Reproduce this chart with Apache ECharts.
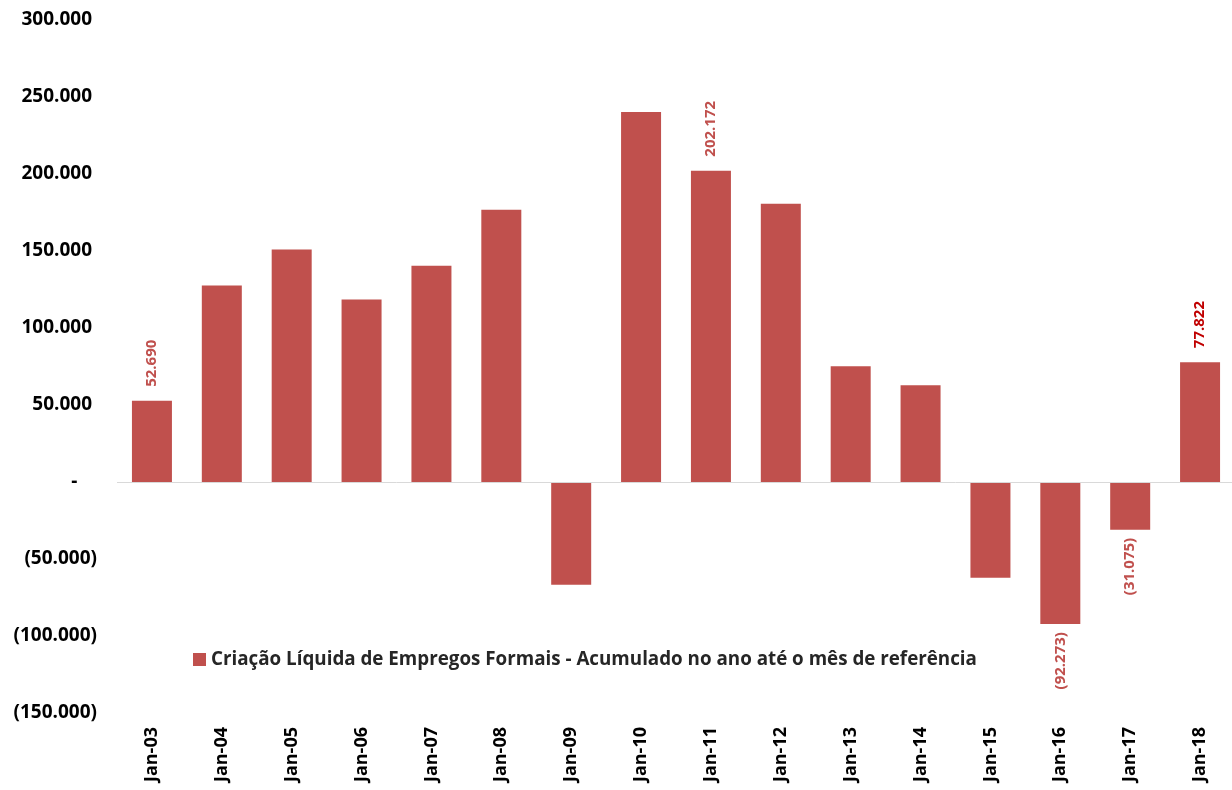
<!DOCTYPE html>
<html>
<head>
<meta charset="utf-8">
<script src="https://cdn.jsdelivr.net/npm/echarts@6/dist/echarts.min.js"></script>
<style>
  html, body { margin: 0; padding: 0; background: #fff; overflow: hidden; }
  #chart { width: 1235px; height: 790px; }
</style>
</head>
<body>
<div id="chart"></div>
<script>
const categories = ['Jan-03', 'Jan-04', 'Jan-05', 'Jan-06', 'Jan-07', 'Jan-08', 'Jan-09', 'Jan-10',
    'Jan-11', 'Jan-12', 'Jan-13', 'Jan-14', 'Jan-15', 'Jan-16', 'Jan-17', 'Jan-18'];
const values = [52690, 127600, 150900, 118500, 140500, 176800, -66700, 240300,
    202172, 180700, 75100, 62800, -62200, -92273, -31075, 77822];
// quais barras levam rótulo de valor
const labeled = ['Jan-03', 'Jan-11', 'Jan-16', 'Jan-17', 'Jan-18'];
const highlight = 'Jan-18';
const seriesName = 'Criação Líquida de Empregos Formais - Acumulado no ano até o mês de referência';

const fontFamily = '"Open Sans", "Noto Sans", sans-serif';

// formato pt-BR: 1.234 e negativos entre parênteses
function fmt(v) {
    const s = Math.abs(v).toString().replace(/\B(?=(\d{3})+(?!\d))/g, '.');
    return v < 0 ? '(' + s + ')' : s;
}

const data = values.map((v, i) => {
    const cat = categories[i];
    if (labeled.indexOf(cat) < 0) return v;
    const neg = v < 0;
    return {
        value: v,
        label: {
            show: true,
            rotate: 90,
            position: neg ? 'bottom' : 'top',
            align: neg ? 'right' : 'left',
            verticalAlign: 'middle',
            distance: neg ? 8 : 14,
            fontFamily: fontFamily,
            fontWeight: 'bold',
            fontSize: 15,
            color: cat === highlight ? '#c00000' : '#c0504d',
            formatter: (p) => fmt(p.value)
        }
    };
});

const myChart = echarts.init(document.getElementById('chart'));
const option = {
    backgroundColor: '#ffffff',
    animation: false,
    grid: {
        left: 117,
        right: 0,
        top: 20,
        bottom: 77,
        containLabel: false
    },
    legend: {
        left: 188,
        top: 645,
        icon: 'rect',
        itemWidth: 13,
        itemHeight: 13,
        itemGap: 8,
        textStyle: {
            fontFamily: fontFamily,
            fontWeight: 'bold',
            fontSize: 18.8,
            color: '#262626'
        },
        data: [seriesName]
    },
    xAxis: {
        type: 'category',
        data: categories,
        axisLine: { show: false, onZero: false },
        axisTick: { show: false },
        axisLabel: {
            rotate: 90,
            margin: 14,
            fontFamily: fontFamily,
            fontWeight: 'bold',
            fontSize: 18,
            color: '#000'
        }
    },
    yAxis: {
        type: 'value',
        min: -150000,
        max: 300000,
        interval: 50000,
        splitLine: { show: false },
        axisLine: { show: false },
        axisTick: { show: false },
        axisLabel: {
            margin: 20,
            fontFamily: fontFamily,
            fontWeight: 'bold',
            fontSize: 19,
            color: '#000',
            formatter: (v) => {
                if (v === 0) return '-    ';
                return v < 0 ? fmt(v) : fmt(v) + ' ';
            }
        }
    },
    series: [
        {
            name: seriesName,
            type: 'bar',
            data: data,
            barWidth: 40,
            itemStyle: { color: '#c0504d' },
            markLine: {
                silent: true,
                symbol: 'none',
                label: { show: false },
                lineStyle: { color: '#d9d9d9', width: 1, type: 'solid' },
                data: [{ yAxis: 0 }]
            }
        }
    ]
};
option && myChart.setOption(option);
</script>
</body>
</html>
